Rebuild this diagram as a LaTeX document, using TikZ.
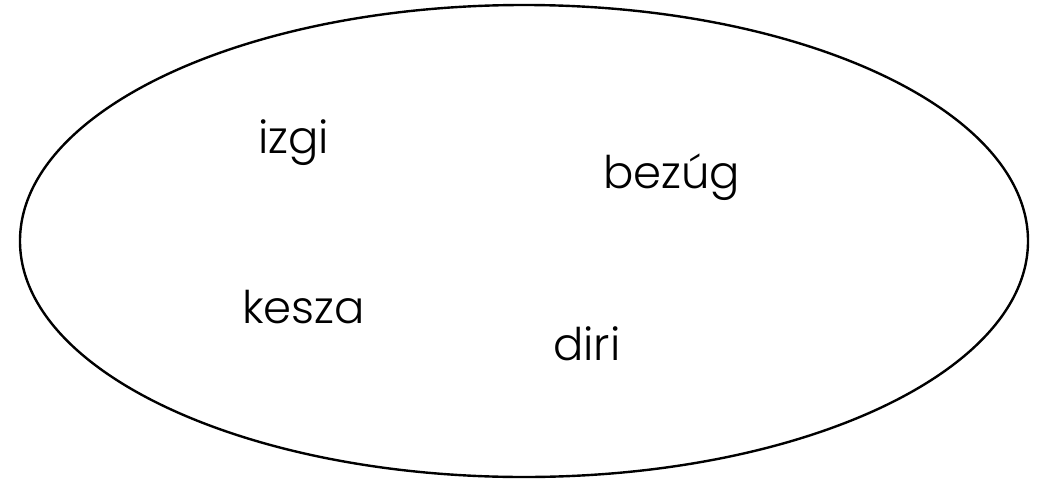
\documentclass[tikz,border=0pt]{standalone}
\usepackage{fontspec}
\setmainfont{Poppins Light}
\tikzset{word/.style={anchor=base west, inner sep=0pt, font=\fontsize{45}{52}\selectfont}}
\begin{document}
\begin{tikzpicture}[x=1pt,y=-1pt]
\useasboundingbox (0,0) rectangle (1048,482);
\draw[line width=2.4pt] (524,241) ellipse [x radius=504, y radius=236];
\node[word] (izgi) at (258,153) {izgi};
\node[word] (bezug) at (603,188) {bezúg};
\node[word] (kesza) at (242,323) {kesza};
\node[word] (diri) at (553,360) {diri};
\end{tikzpicture}
\end{document}
